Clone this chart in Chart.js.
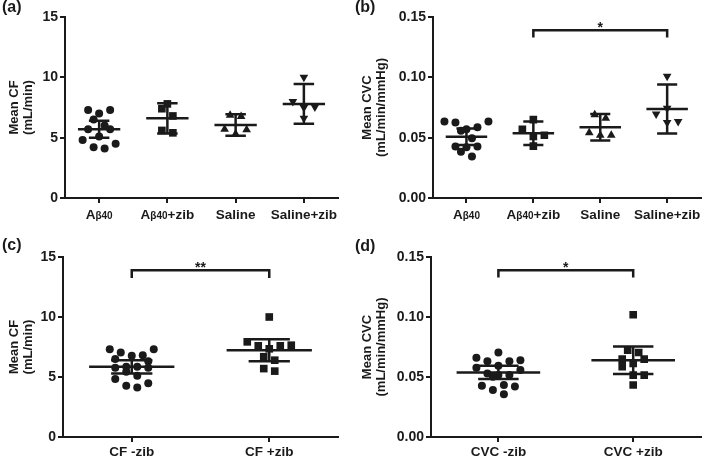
<!DOCTYPE html>
<html>
<head>
<meta charset="utf-8">
<script src="https://cdn.jsdelivr.net/npm/chart.js@4/dist/chart.umd.min.js"></script>
<style>
  html, body { margin: 0; padding: 0; background: #fff; }
  #wrap { position: relative; width: 706px; height: 458px; }
  canvas { position: absolute; }
</style>
</head>
<body>
<div id="wrap">
  <canvas id="chartA" width="353" height="229" style="left:0;top:0"></canvas>
  <canvas id="chartB" width="353" height="229" style="left:353px;top:0"></canvas>
  <canvas id="chartC" width="353" height="229" style="left:0;top:229px"></canvas>
  <canvas id="chartD" width="353" height="229" style="left:353px;top:229px"></canvas>
</div>
<script>
// ---- data ----
const catsTreat = ['Aβ40', 'Aβ40+zib', 'Saline', 'Saline+zib'];
const catsCF = ['CF -zib', 'CF +zib'];
const catsCVC = ['CVC -zib', 'CVC +zib'];

const yTicksCF = [0, 5, 10, 15];
const yLabelsCF = ['0', '5', '10', '15'];
const yTicksCVC = [0, 0.05, 0.10, 0.15];
const yLabelsCVC = ['0.00', '0.05', '0.10', '0.15'];

// (a) mean CF, mL/min
const cfAbeta = [7.0, 7.3, 7.3, 6.5, 5.7, 5.7, 6.0, 4.5, 4.1, 4.2, 4.8, 5.1];
const cfAbetaZib = [7.8, 7.4, 6.8, 5.6, 5.4];
const cfSaline = [6.85, 6.75, 5.65, 5.7, 5.3];
const cfSalineZib = [10.0, 8.0, 7.55, 7.5, 6.6];
const cfMeanA = [5.7, 6.6, 6.05, 7.8];
const cfErrA = [0.7, 1.25, 0.9, 1.65];

// (b) mean CVC, mL/min/mmHg
const cvcAbeta = [0.0633, 0.0625, 0.0633, 0.0586, 0.057, 0.0558, 0.0495, 0.0426, 0.0426, 0.042, 0.0384, 0.0343];
const cvcAbetaZib = [0.065, 0.057, 0.052, 0.051, 0.043];
const cvcSaline = [0.069, 0.066, 0.054, 0.052, 0.052];
const cvcSalineZib = [0.101, 0.0744, 0.0697, 0.0633, 0.0625];
const cvcMeanB = [0.0508, 0.0536, 0.0586, 0.0737];
const cvcErrB = [0.0069, 0.0097, 0.011, 0.0203];

// (c) pooled CF
const cfNoZib = [7.04, 7.32, 7.32, 6.77, 6.82, 6.32, 6.49, 5.86, 5.86, 5.77, 5.77, 5.44, 5.11, 4.83, 4.47, 4.12, 4.28];
const cfZib = [10.0, 7.93, 7.6, 7.6, 7.65, 7.35, 6.69, 6.4, 5.49, 5.7];
const cfMeanC = [5.85, 7.23];
const cfErrC = [0.55, 0.92];

// (d) pooled CVC
const cvcNoZib = [0.0704, 0.064, 0.0632, 0.0632, 0.066, 0.0577, 0.0558, 0.0594, 0.053, 0.0516, 0.0503, 0.0516, 0.0428, 0.042, 0.0392, 0.0433, 0.0356];
const cvcZib = [0.1019, 0.0704, 0.0723, 0.0649, 0.0649, 0.0586, 0.0613, 0.0516, 0.0516, 0.0433];
const cvcMeanD = [0.0538, 0.064];
const cvcErrD = [0.0055, 0.0115];

// significance brackets: [from, to, y, drop, text]
const bracketB = [1, 3, 0.139, 0.006, '*'];
const bracketC = [0, 1, 13.9, 0.65, '**'];
const bracketD = [0, 1, 0.139, 0.006, '*'];

// ---- drawing ----
const INK = '#1a1a1a';
const FONT = "'Liberation Sans', Arial, Helvetica, sans-serif";

const circle = {style: 'circle', r: 4, rot: 0};
const square = {style: 'rect', r: 5.4, rot: 0};
const triUp = {style: 'triangle', r: 5, rot: 0};
const triDown = {style: 'triangle', r: 5, rot: 180};

// column-scatter layout: points within rowH px share a row, spread evenly from the centre
function swarm(pys, rowH, spacing) {
  const order = pys.map((p, i) => i).sort((a, b) => pys[b] - pys[a]);
  const out = [];
  let row = [];
  const flush = () => {
    const n = row.length;
    const slots = row.map((r, j) => (j - (n - 1) / 2) * spacing)
      .sort((a, b) => Math.abs(a) - Math.abs(b) || b - a);
    row.forEach((idx, k) => { out[idx] = slots[k]; });
    row = [];
  };
  let start = null;
  for (const i of order) {
    if (row.length && start - pys[i] >= rowH) flush();
    if (!row.length) start = pys[i];
    row.push(i);
  }
  flush();
  return out;
}

function drawLabel(ctx, text, cx, y) {
  // "β40" is set smaller, like the original figure
  const parts = text.split(/(β40)/).filter(s => s);
  const big = 'bold 13.5px ' + FONT, small = 'bold 10px ' + FONT;
  let w = 0;
  parts.forEach(p => { ctx.font = p === 'β40' ? small : big; w += ctx.measureText(p).width; });
  let x = cx - w / 2;
  ctx.textAlign = 'left';
  ctx.textBaseline = 'alphabetic';
  parts.forEach(p => {
    ctx.font = p === 'β40' ? small : big;
    ctx.fillText(p, x, y);
    x += ctx.measureText(p).width;
  });
}

function makePanel(id, o) {
  const overlay = {
    id: 'overlay' + id,
    afterDatasetsDraw(chart) {
      const {ctx, scales: {x, y}} = chart;
      const step = x.getPixelForValue(1) - x.getPixelForValue(0);
      ctx.save();
      ctx.strokeStyle = INK;
      ctx.lineWidth = 2.5;
      ctx.lineCap = 'butt';
      o.mean.forEach((m, i) => {
        const cx = x.getPixelForValue(i);
        const my = y.getPixelForValue(m);
        const hi = y.getPixelForValue(m + o.err[i]);
        const lo = y.getPixelForValue(m - o.err[i]);
        const mw = step * 0.31, cw = step * 0.15;
        ctx.beginPath();
        ctx.moveTo(cx - mw, my); ctx.lineTo(cx + mw, my);
        ctx.moveTo(cx, hi); ctx.lineTo(cx, lo);
        ctx.moveTo(cx - cw, hi); ctx.lineTo(cx + cw, hi);
        ctx.moveTo(cx - cw, lo); ctx.lineTo(cx + cw, lo);
        ctx.stroke();
      });
      ctx.restore();
    },
    afterDraw(chart) {
      const {ctx, scales: {x, y}, chartArea} = chart;
      ctx.save();
      ctx.fillStyle = INK;
      o.cats.forEach((c, i) => drawLabel(ctx, c, x.getPixelForValue(i), chartArea.bottom + o.labelDy));
      ctx.font = 'bold 16px ' + FONT;
      ctx.textAlign = 'left';
      ctx.textBaseline = 'top';
      ctx.fillText(o.letter, 2, o.letterTop);
      if (o.bracket) {
        const [a, b, by, drop, txt] = o.bracket;
        const x1 = x.getPixelForValue(a), x2 = x.getPixelForValue(b);
        const py = y.getPixelForValue(by), pd = y.getPixelForValue(by - drop);
        ctx.strokeStyle = INK;
        ctx.lineWidth = 2.5;
        ctx.lineJoin = 'miter';
        ctx.beginPath();
        ctx.moveTo(x1, pd); ctx.lineTo(x1, py); ctx.lineTo(x2, py); ctx.lineTo(x2, pd);
        ctx.stroke();
        ctx.font = 'bold 14px ' + FONT;
        ctx.textAlign = 'center';
        ctx.textBaseline = 'alphabetic';
        ctx.fillText(txt, (x1 + x2) / 2, py + 2);
      }
      ctx.restore();
    }
  };

  const datasets = o.groups.map((vals, i) => ({
    data: vals.map(v => ({x: i, y: v})),
    pointStyle: o.shapes[i].style,
    rotation: o.shapes[i].rot,
    pointRadius: o.shapes[i].r,
    backgroundColor: INK,
    borderColor: INK,
    borderWidth: 0,
    showLine: false
  }));

  const chart = new Chart(document.getElementById(id), {
    type: 'scatter',
    data: {datasets},
    options: {
      responsive: false,
      animation: false,
      layout: {padding: {left: 0, top: o.top, right: o.right, bottom: 0}},
      plugins: {legend: {display: false}, tooltip: {enabled: false}},
      scales: {
        x: {
          type: 'linear',
          min: -0.5,
          max: o.cats.length - 0.5,
          afterBuildTicks: s => { s.ticks = o.cats.map((c, i) => ({value: i})); },
          afterFit: s => { s.height = o.xh; },
          ticks: {display: false},
          grid: {drawOnChartArea: false, tickLength: 5, lineWidth: 2, color: INK},
          border: {color: INK, width: 2}
        },
        y: {
          min: o.yTicks[0],
          max: o.yTicks[o.yTicks.length - 1],
          afterBuildTicks: s => { s.ticks = o.yTicks.map(v => ({value: v})); },
          afterFit: s => { s.width = o.yw; },
          ticks: {
            color: INK,
            font: {family: FONT, size: 14, weight: 'bold'},
            padding: 2,
            callback: (v, i) => o.yLabels[i]
          },
          title: {
            display: true,
            text: o.ytitle,
            color: INK,
            font: {family: FONT, size: 13, weight: 'bold', lineHeight: 1.08},
            padding: {top: 7, bottom: 0}
          },
          grid: {drawOnChartArea: false, tickLength: 5, lineWidth: 2, color: INK},
          border: {color: INK, width: 2}
        }
      }
    },
    plugins: [overlay]
  });

  // spread the points sideways like a column scatter
  const xs = chart.scales.x, ys = chart.scales.y;
  o.groups.forEach((vals, i) => {
    const offs = swarm(vals.map(v => ys.getPixelForValue(v)), 9, 11);
    const cx = xs.getPixelForValue(i);
    chart.data.datasets[i].data = vals.map((v, k) => ({x: xs.getValueForPixel(cx + offs[k]), y: v}));
  });
  chart.update();
  return chart;
}

makePanel('chartA', {
  letter: '(a)', letterTop: 0, top: 17, right: 15, yw: 65, xh: 31, labelDy: 21,
  cats: catsTreat, yTicks: yTicksCF, yLabels: yLabelsCF, ytitle: ['Mean CF', '(mL/min)'],
  groups: [cfAbeta, cfAbetaZib, cfSaline, cfSalineZib],
  shapes: [circle, square, triUp, triDown],
  mean: cfMeanA, err: cfErrA
});

makePanel('chartB', {
  letter: '(b)', letterTop: 0, top: 17, right: 0, yw: 80, xh: 31, labelDy: 21,
  cats: catsTreat, yTicks: yTicksCVC, yLabels: yLabelsCVC, ytitle: ['Mean CVC', '(mL/min/mmHg)'],
  groups: [cvcAbeta, cvcAbetaZib, cvcSaline, cvcSalineZib],
  shapes: [circle, square, triUp, triDown],
  mean: cvcMeanB, err: cvcErrB, bracket: bracketB
});

makePanel('chartC', {
  letter: '(c)', letterTop: 9, top: 28, right: 15, yw: 63, xh: 21, labelDy: 19,
  cats: catsCF, yTicks: yTicksCF, yLabels: yLabelsCF, ytitle: ['Mean CF', '(mL/min)'],
  groups: [cfNoZib, cfZib],
  shapes: [circle, square],
  mean: cfMeanC, err: cfErrC, bracket: bracketC
});

makePanel('chartD', {
  letter: '(d)', letterTop: 10, top: 28, right: 0, yw: 78, xh: 21, labelDy: 19,
  cats: catsCVC, yTicks: yTicksCVC, yLabels: yLabelsCVC, ytitle: ['Mean CVC', '(mL/min/mmHg)'],
  groups: [cvcNoZib, cvcZib],
  shapes: [circle, square],
  mean: cvcMeanD, err: cvcErrD, bracket: bracketD
});
</script>
</body>
</html>
